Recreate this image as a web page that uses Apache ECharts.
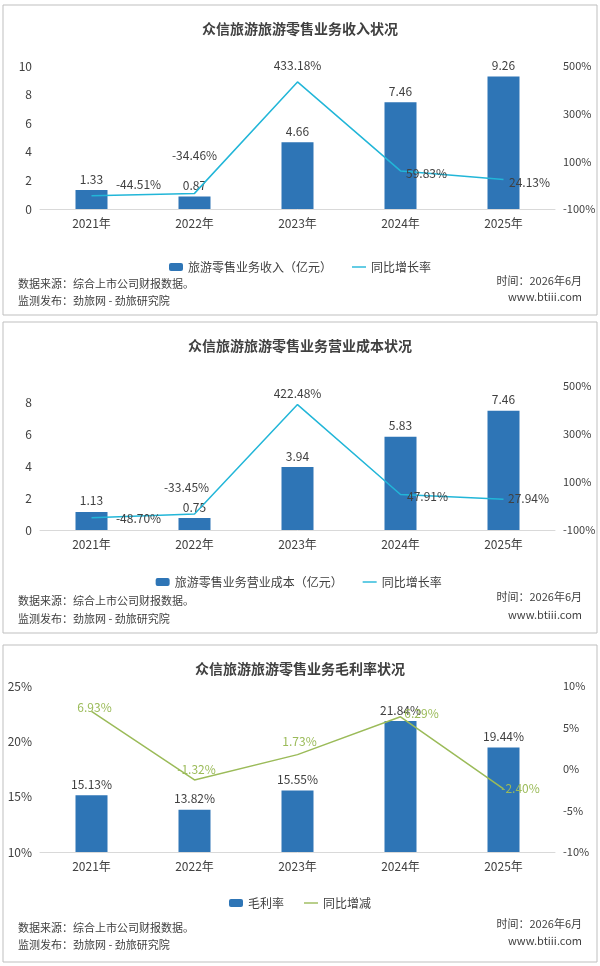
<!DOCTYPE html><html><head><meta charset="utf-8"><script src="https://cdn.jsdelivr.net/npm/echarts@6/dist/echarts.min.js"></script>
<style>html,body{margin:0;background:#fff}#c{width:600px;height:966px}</style></head><body><div id="c"></div><script>
const years=['2021年','2022年','2023年','2024年','2025年'];
const revenue=[1.33,0.87,4.66,7.46,9.26];
const revenueYoY=[-44.51,-34.46,433.18,59.83,24.13];
const cost=[1.13,0.75,3.94,5.83,7.46];
const costYoY=[-48.70,-33.45,422.48,47.91,27.94];
const margin=[15.13,13.82,15.55,21.84,19.44];
const marginChg=[6.93,-1.32,1.73,6.29,-2.40];
const titles=['众信旅游旅游零售业务收入状况','众信旅游旅游零售业务营业成本状况','众信旅游旅游零售业务毛利率状况'];
const barNames=['旅游零售业务收入（亿元）','旅游零售业务营业成本（亿元）','毛利率'];
const lineNames=['同比增长率','同比增长率 ','同比增减'];
const F='"Noto Sans CJK SC","Noto Sans",sans-serif';
const BAR='#2e75b6',CY='#22b6d8',GR='#9bbb59';
const panels=[{y:5,h:310},{y:322,h:311},{y:645,h:317}];
const grids=[{top:66,height:143},{top:386,height:144},{top:686,height:166}];
const offs=[[[47,0],[0,-27],[0,-5],[26,14],[26,14]],[[47,12],[-8,-16],[0,0],[27,13],[25,10]],[[3,7],[2,0],[2,-2],[21,8],[17,11]]];
function lineData(v,i){return v.map((x,j)=>({value:x,label:{offset:offs[i][j]}}));}
function mkLine(i,data,xi,yi,color,lc){return {type:'line',name:lineNames[i],xAxisIndex:xi,yAxisIndex:yi,data:lineData(data,i),symbol:'circle',symbolSize:0,lineStyle:{color:color,width:1.5},itemStyle:{color:color},label:{show:true,position:'top',fontSize:12,color:lc,formatter:p=>p.value.toFixed(2)+'%'}};}
const option={animation:false,textStyle:{fontFamily:F},
title:titles.map((t,i)=>({text:t,left:'center',top:panels[i].y+12,textStyle:{fontSize:14,fontWeight:'bold',color:'#404040',fontFamily:F}})),
legend:[0,1,2].map(i=>({top:[256,571,892][i],left:'center',itemWidth:14,itemHeight:8,itemGap:20,textStyle:{fontSize:12,color:'#404040'},data:[{name:barNames[i]},{name:lineNames[i],icon:'path://M0,0H20V2H0Z'}]})),
grid:grids.map(g=>({left:40,right:45,top:g.top,height:g.height})),
xAxis:[0,1,2].map(i=>({type:'category',gridIndex:i,data:years,axisTick:{show:false},axisLine:{onZero:false,lineStyle:{color:'#d9d9d9'}},axisLabel:{color:'#404040',fontSize:12}})),
yAxis:[
{gridIndex:0,min:0,max:10,interval:2,splitLine:{show:false},axisLabel:{color:'#404040',fontSize:12}},
{gridIndex:0,min:-100,max:500,interval:200,splitLine:{show:false},axisLabel:{formatter:'{value}%',color:'#404040',fontSize:11}},
{gridIndex:1,min:0,max:9,interval:2,splitLine:{show:false},axisLabel:{color:'#404040',fontSize:12,showMaxLabel:false}},
{gridIndex:1,min:-100,max:500,interval:200,splitLine:{show:false},axisLabel:{formatter:'{value}%',color:'#404040',fontSize:11}},
{gridIndex:2,min:10,max:25,interval:5,splitLine:{show:false},axisLabel:{formatter:'{value}%',color:'#404040',fontSize:12}},
{gridIndex:2,min:-10,max:10,interval:5,splitLine:{show:false},axisLabel:{formatter:'{value}%',color:'#404040',fontSize:11}}],
series:[
{type:'bar',name:barNames[0],xAxisIndex:0,yAxisIndex:0,data:revenue,barWidth:32,itemStyle:{color:BAR},label:{show:true,position:'top',color:'#404040',fontSize:12}},
mkLine(0,revenueYoY,0,1,CY,'#404040'),
{type:'bar',name:barNames[1],xAxisIndex:1,yAxisIndex:2,data:cost,barWidth:32,itemStyle:{color:BAR},label:{show:true,position:'top',color:'#404040',fontSize:12}},
mkLine(1,costYoY,1,3,CY,'#404040'),
{type:'bar',name:barNames[2],xAxisIndex:2,yAxisIndex:4,data:margin,barWidth:32,itemStyle:{color:BAR},label:{show:true,position:'top',color:'#404040',fontSize:12,formatter:p=>p.value.toFixed(2)+'%'}},
mkLine(2,marginChg,2,5,GR,GR)],
graphic:[]};
const foot=[[285,302,282,298],[602,620,598,616],[929,946,925,942]];
panels.forEach((p,i)=>{
option.graphic.push({type:'rect',shape:{x:3,y:p.y,width:594,height:p.h},style:{fill:'none',stroke:'#bfbfbf',lineWidth:1}});
const f=foot[i];
option.graphic.push({type:'text',left:18,top:f[0]-7,style:{text:'数据来源：综合上市公司财报数据。',font:'11px '+F,fill:'#404040'}});
option.graphic.push({type:'text',left:18,top:f[1]-7,style:{text:'监测发布：劲旅网 - 劲旅研究院',font:'11px '+F,fill:'#404040'}});
option.graphic.push({type:'text',right:18,top:f[2]-7,style:{text:'时间：2026年6月',font:'11px '+F,fill:'#404040'}});
option.graphic.push({type:'text',right:18,top:f[3]-7,style:{text:'www.btiii.com',font:'11px '+F,fill:'#404040'}});
});
echarts.init(document.getElementById('c')).setOption(option);
</script></body></html>
